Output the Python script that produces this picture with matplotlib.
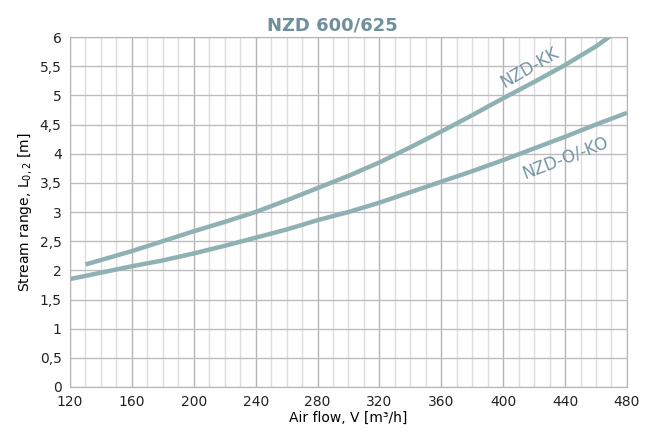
import numpy as np
import matplotlib
matplotlib.use('Agg')
import matplotlib.pyplot as plt
from matplotlib.ticker import MultipleLocator, FuncFormatter

plt.rcParams['font.family'] = ['DejaVu Sans']

# NZD-KK
kk_flow = [130, 160, 180, 200, 220, 240, 260, 280, 300, 320, 340, 360, 380, 400, 420, 440, 460, 470]
kk_range = [2.10, 2.33, 2.50, 2.67, 2.83, 3.00, 3.20, 3.41, 3.62, 3.85, 4.11, 4.38, 4.66, 4.95, 5.23, 5.52, 5.84, 6.03]

# NZD-O/-KO
ko_flow = [120, 140, 160, 180, 200, 220, 240, 260, 280, 300, 320, 340, 360, 380, 400, 420, 440, 460, 480]
ko_range = [1.85, 1.96, 2.07, 2.17, 2.29, 2.42, 2.56, 2.70, 2.86, 3.00, 3.16, 3.34, 3.52, 3.70, 3.89, 4.09, 4.29, 4.50, 4.70]

x_ticks = [120, 160, 200, 240, 280, 320, 360, 400, 440, 480]

line_col = '#8fb1b3'
text_col = '#7596a3'

fig = plt.figure(figsize=(6.45, 4.34), dpi=100)
ax = fig.add_axes([0.1085, 0.1083, 0.8635, 0.8064])

# grid
ax.set_xlim(120, 480)
ax.set_ylim(0, 6)
ax.xaxis.set_major_locator(MultipleLocator(40))
ax.xaxis.set_minor_locator(MultipleLocator(10))
ax.yaxis.set_major_locator(MultipleLocator(0.5))
ax.grid(which='major', axis='x', color='#b4b4b4', lw=1.0)
ax.grid(which='minor', axis='x', color='#dcdcdc', lw=1.0)
ax.grid(which='major', axis='y', color='#bdbdbd', lw=1.0)
ax.set_axisbelow(True)
ax.tick_params(which='both', length=0, labelsize=10, pad=6, colors='#222222')
ax.set_xticks(x_ticks)
ax.yaxis.set_major_formatter(FuncFormatter(lambda v, p: ('%g' % v).replace('.', ',')))
for s in ax.spines.values():
    s.set_color('#b4b4b4')

ax.plot(kk_flow, kk_range, color=line_col, lw=3.2, solid_capstyle='butt')
ax.plot(ko_flow, ko_range, color=line_col, lw=3.2, solid_capstyle='butt')

# curve labels
ax.text(417, 5.47, 'NZD-KK', rotation=30, color=text_col, fontsize=12,
        ha='center', va='center', rotation_mode='anchor')
ax.text(440, 3.93, 'NZD-O/-KO', rotation=21, color=text_col, fontsize=12,
        ha='center', va='center', rotation_mode='anchor')

# title (slightly left of the axes centre, as in the original)
fig.text(332 / 645, 1 - 30 / 434, 'NZD 600/625', fontsize=13, fontweight='bold',
         color='#6e8f9b', ha='center', va='baseline')
ax.set_xlabel('Air flow, V [m³/h]', fontsize=10, labelpad=1)
ax.set_ylabel('Stream range, L$_{0,2}$ [m]', fontsize=10, labelpad=4)

fig.savefig('out.png', dpi=100)
